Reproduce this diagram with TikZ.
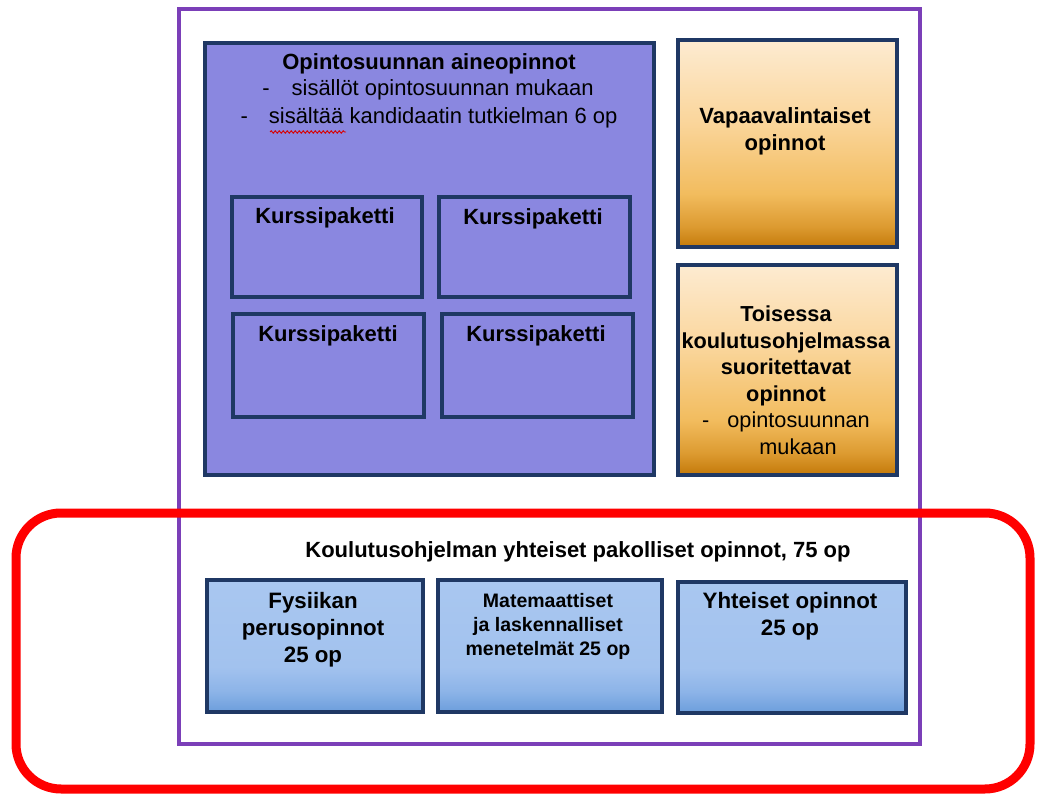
\documentclass[tikz,border=0pt]{standalone}
\usepackage{fontspec}
\setmainfont{Liberation Sans}
\usetikzlibrary{decorations.pathmorphing,shadows}
\definecolor{navy}{HTML}{1F3864}
\definecolor{periw}{HTML}{8A87E0}
\definecolor{purp}{HTML}{7B3FB8}
\definecolor{obot}{HTML}{C47A0A}
\definecolor{omidA}{HTML}{DC9A30}
\definecolor{omidB}{HTML}{F2BC5E}
\definecolor{omidC}{HTML}{FAD59A}
\definecolor{otop}{HTML}{FDEBD1}
\definecolor{bbot}{HTML}{6C9EDC}
\definecolor{bmidA}{HTML}{8DB4E8}
\definecolor{bmidB}{HTML}{A2C2EE}
\definecolor{btop}{HTML}{A9C7F0}
\pgfdeclareverticalshading{orsh}{100bp}{color(0bp)=(obot); color(25bp)=(obot); color(30bp)=(omidA); color(38bp)=(omidB); color(55bp)=(omidC); color(75bp)=(otop); color(100bp)=(otop)}
\pgfdeclareverticalshading{blsh}{100bp}{color(0bp)=(bbot); color(25bp)=(bbot); color(33bp)=(bmidA); color(42bp)=(bmidB); color(75bp)=(btop); color(100bp)=(btop)}
\tikzset{
  box/.style={draw=navy, line width=4pt, inner sep=0pt, drop shadow={shadow xshift=1.5pt, shadow yshift=-2pt, opacity=0.25}},
  pbox/.style={box, fill=periw},
  obox/.style={box, shading=orsh},
  bbox/.style={box, shading=blsh},
  lbl/.style={inner sep=0pt, align=center, text=black},
  bfont/.style={font=\fontsize{22}{27}\selectfont\bfseries},
  rfont/.style={font=\fontsize{22}{27}\selectfont},
}
\begin{document}
\begin{tikzpicture}[x=1pt,y=-1pt]
\fill[white] (0,0) rectangle (1039,794);
\useasboundingbox (0,0) rectangle (1039,794);
% outer purple frame
\node[draw=purp, line width=4pt, fill=white, minimum width=741pt, minimum height=735pt, inner sep=0pt,
  drop shadow={shadow xshift=1.5pt, shadow yshift=-2pt, opacity=0.2}] (frame) at (549.5,376.5) {};
% big periwinkle box
\node[pbox, minimum width=449pt, minimum height=432pt] (aine) at (429.5,259) {};
\node[lbl, bfont] (ainet) at (429,64) {Opintosuunnan aineopinnot};
\node[lbl, rfont] (ainel1) at (428,90) {-\hspace{22pt}sisällöt opintosuunnan mukaan};
\node[lbl, rfont] (ainel2) at (429,118) {-\hspace{21pt}sisältää kandidaatin tutkielman 6 op};
\coordinate (sqa) at (270,132);
\coordinate (sqb) at (346,132);
\draw[red!85!black, line width=0.9pt, decorate, decoration={snake, amplitude=1.2pt, segment length=4pt}] (sqa) -- (sqb);
% Kurssipaketti boxes
\node[pbox, minimum width=190pt, minimum height=100pt] (k1) at (326.5,247.5) {};
\node[pbox, minimum width=191pt, minimum height=100pt] (k2) at (534,247.5) {};
\node[pbox, minimum width=191pt, minimum height=102pt] (k3) at (328,365.5) {};
\node[pbox, minimum width=191pt, minimum height=102pt] (k4) at (537.5,365.5) {};
\node[lbl, bfont] (k1t) at (325,218) {Kurssipaketti};
\node[lbl, bfont] (k2t) at (533,219) {Kurssipaketti};
\node[lbl, bfont] (k3t) at (328,336) {Kurssipaketti};
\node[lbl, bfont] (k4t) at (536,336) {Kurssipaketti};
% orange boxes
\node[obox, minimum width=219pt, minimum height=207pt] (vapaa) at (787,144) {};
\node[lbl, bfont] (vapaat) at (785,131) {Vapaavalintaiset\\opinnot};
\node[obox, minimum width=219pt, minimum height=209pt] (toinen) at (787,370) {};
\node[lbl, font=\fontsize{21.7}{26.5}\selectfont] (toisent) at (786,380) {\textbf{Toisessa}\\\textbf{koulutusohjelmassa}\\\textbf{suoritettavat}\\\textbf{opinnot}\\-\hspace{18pt}opintosuunnan\\\hspace{24pt}mukaan};
% bottom title
\node[lbl, bfont] (yht) at (578,552) {Koulutusohjelman yhteiset pakolliset opinnot, 75 op};
% blue boxes
\node[bbox, minimum width=216pt, minimum height=132pt] (fys) at (314.5,646) {};
\node[bbox, minimum width=224pt, minimum height=132pt] (mat) at (550,646) {};
\node[bbox, minimum width=228pt, minimum height=131pt] (yo) at (792,647) {};
\node[lbl, font=\fontsize{22.3}{27}\selectfont\bfseries] (fyst) at (313,630) {Fysiikan\\perusopinnot\\25 op};
\node[lbl, font=\fontsize{19.5}{24}\selectfont\bfseries] (matt) at (548,626) {Matemaattiset\\ja laskennalliset\\menetelmät 25 op};
\node[lbl, font=\fontsize{22.3}{27}\selectfont\bfseries] (yot) at (790,616) {Yhteiset opinnot\\25 op};
% red rounded frame
\draw[red, line width=9pt, rounded corners=45pt] (16,513) rectangle (1030,789);
\end{tikzpicture}
\end{document}
